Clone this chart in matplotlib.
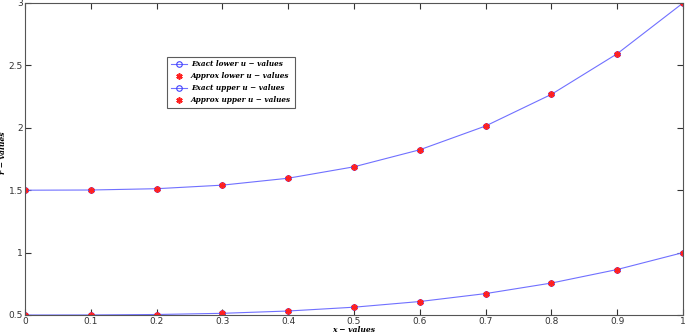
import numpy as np
import matplotlib
matplotlib.use("Agg")
import matplotlib.pyplot as plt

x_vals = [0.0, 0.1, 0.2, 0.3, 0.4, 0.5, 0.6, 0.7, 0.8, 0.9, 1.0]
lower_exact = [0.5, 0.5005, 0.504, 0.5135, 0.532, 0.5625, 0.608, 0.6715, 0.756, 0.8645, 1.0]
lower_approx = [0.5, 0.5005, 0.504, 0.5135, 0.532, 0.5625, 0.608, 0.6715, 0.756, 0.8645, 1.0]
upper_exact = [1.5, 1.5015, 1.512, 1.5405, 1.596, 1.6875, 1.824, 2.0145, 2.268, 2.5935, 3.0]
upper_approx = [1.5, 1.5015, 1.512, 1.5405, 1.596, 1.6875, 1.824, 2.0145, 2.268, 2.5935, 3.0]

fig = plt.figure(figsize=(6.85, 3.34), dpi=100)
ax = fig.add_axes([25 / 685, 19 / 334, 658 / 685, 312 / 334])

lc = '#7070ff'
ast = (6, 2, 0)
ax.plot(x_vals, lower_exact, '-o', color=lc, lw=0.8, ms=4, mfc='none', mec='#4040ff', mew=0.8,
        label='Exact lower u − values')
ax.plot(x_vals, lower_approx, ls='none', marker=ast, color='#ff2020', mec='#ff2020', ms=4.5, mew=1.2,
        label='Approx lower u − values')
ax.plot(x_vals, upper_exact, '-o', color=lc, lw=0.8, ms=4, mfc='none', mec='#4040ff', mew=0.8,
        label='Exact upper u − values')
ax.plot(x_vals, upper_approx, ls='none', marker=ast, color='#ff2020', mec='#ff2020', ms=4.5, mew=1.2,
        label='Approx upper u − values')

ax.set_xlim(0, 1)
ax.set_ylim(0.5, 3)
ax.set_xticks(np.arange(0, 1.01, 0.1))
ax.set_xticklabels(['0', '0.1', '0.2', '0.3', '0.4', '0.5', '0.6', '0.7', '0.8', '0.9', '1'])
ax.set_yticks([0.5, 1, 1.5, 2, 2.5, 3])
ax.set_yticklabels(['0.5', '1', '1.5', '2', '2.5', '3'])
ax.tick_params(direction='in', length=4, width=0.8, labelsize=6.5, pad=1.5, colors='#333333',
               top=True, right=True)
for s in ax.spines.values():
    s.set_color('#555555')
    s.set_linewidth(0.8)

ax.set_xlabel('x − values', fontsize=5.5, family='DejaVu Serif', style='italic', weight='bold', labelpad=0)
ax.set_ylabel('r − values', fontsize=5.5, family='DejaVu Serif', style='italic', weight='bold')
ax.yaxis.set_label_coords(-0.028, 0.52)

leg = ax.legend(loc='upper left', bbox_to_anchor=(0.216, 0.828),
                prop={'family': 'DejaVu Serif', 'style': 'italic', 'weight': 'bold', 'size': 5.2},
                frameon=True, fancybox=False, edgecolor='#333333', borderpad=0.5,
                labelspacing=0.55, handlelength=2.2, handletextpad=0.6, borderaxespad=0)
leg.get_frame().set_linewidth(0.8)

fig.savefig('out.png', dpi=100)
